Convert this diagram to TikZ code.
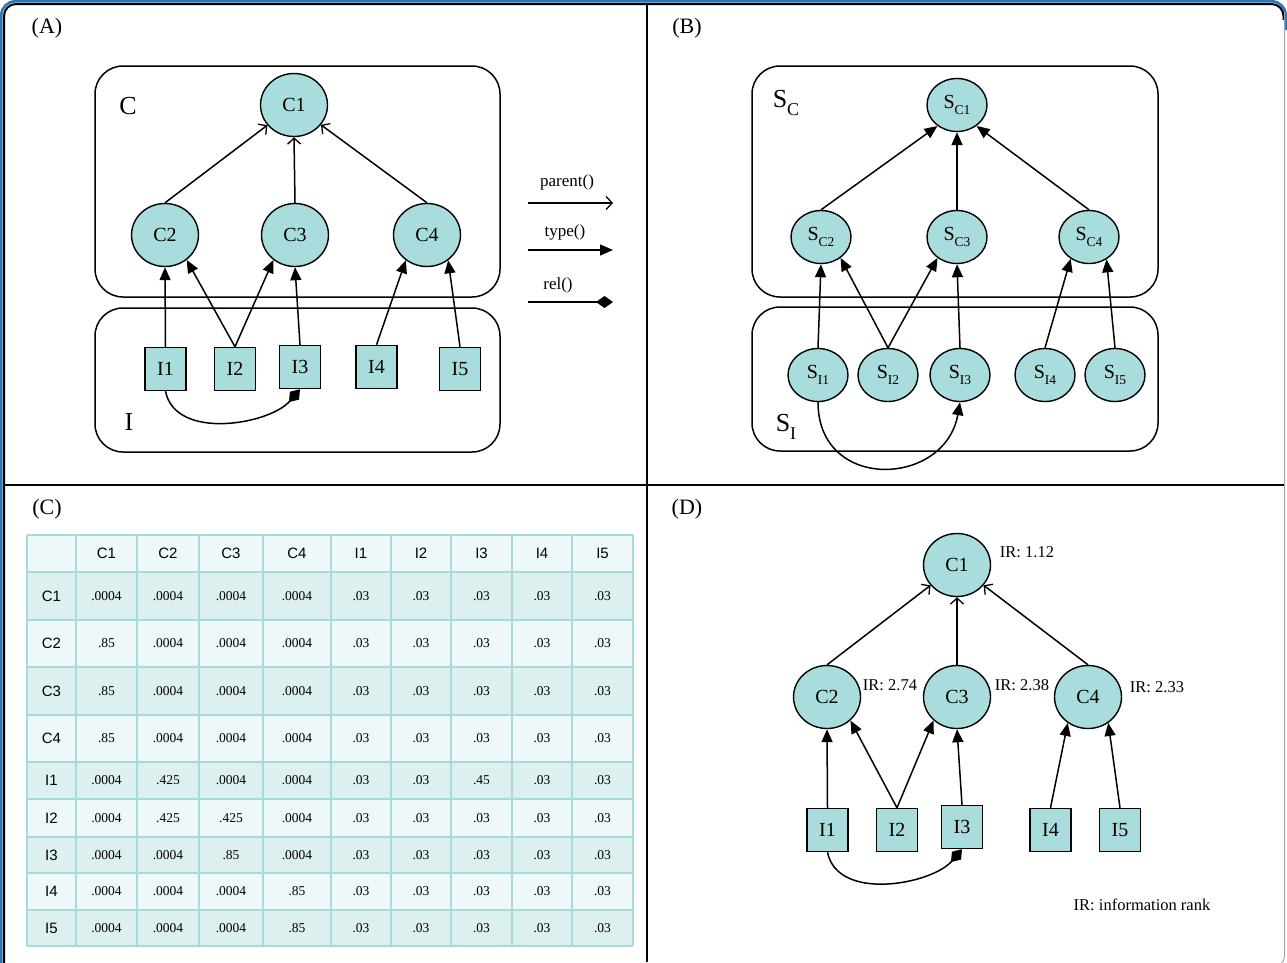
\documentclass[tikz,border=0pt]{standalone}
\usepackage{fontspec}
\setmainfont{Liberation Serif}
\setsansfont{Liberation Sans}
\usetikzlibrary{arrows.meta,shapes.geometric}
\definecolor{nodefill}{RGB}{169,220,220}
\definecolor{celllight}{RGB}{238,248,249}
\definecolor{celldark}{RGB}{221,240,240}
\definecolor{gridc}{RGB}{166,218,219}
\definecolor{frameblue}{RGB}{46,117,182}
\newcommand{\fs}[1]{\fontsize{#1}{#1}\selectfont}
\newcommand{\Ssub}[1]{S\raisebox{-0.3em}{\fs{13.5}#1}}
\begin{document}
\begin{tikzpicture}[x=1pt,y=-1pt,
  cnode/.style={ellipse,draw,line width=1.4pt,fill=nodefill,minimum width=67pt,minimum height=63pt,inner sep=0pt,font=\fs{20}},
  inode/.style={rectangle,draw,line width=1.4pt,fill=nodefill,minimum width=41pt,minimum height=43pt,inner sep=0pt,font=\fs{20}},
  snode/.style={ellipse,draw,line width=1.4pt,fill=nodefill,minimum width=60pt,minimum height=53pt,inner sep=0pt,font=\fs{20}},
  edge/.style={line width=1.5pt},
  parentarr/.style={edge,-{Straight Barb[length=6pt,width=13pt,line width=1.3pt]}},
  typearr/.style={edge,-{Triangle[length=13pt,width=11pt]}},
  relarr/.style={edge,-{Diamond[length=17pt,width=12pt]}},
  box/.style={draw,line width=1.5pt,rounded corners=28pt},
  panellab/.style={font=\fs{22}},
  biglab/.style={font=\fs{26}},
  legtext/.style={font=\fs{17}},
  irtext/.style={font=\fs{16.5}},
  hdr/.style={font=\sffamily\fs{15}},
  val/.style={font=\fs{13.5}},
  gridline/.style={draw=gridc,line width=2.5pt}
]
\useasboundingbox (0,0) rectangle (1287,962);
\fill[white] (0,0) rectangle (1287,962);

% ---------- frame ----------
\draw[frameblue,line width=2.6pt,rounded corners=14pt] (1.3,980) -- (1.3,1.3) -- (1285.7,1.3) -- (1285.7,30);
\draw[black,line width=2pt,rounded corners=12pt] (4,980) -- (4,4) -- (1283.5,4) -- (1283.5,20);
\draw[gray!70,line width=1pt,rounded corners=10pt] (1284.5,12) -- (1284.5,966) -- (1250,966);
\draw[line width=1.8pt] (647,4) -- (647,962);
\draw[line width=1.8pt] (4,485) -- (1283.5,485);

% ---------- panel labels ----------
\node[panellab] (labA) at (47,28) {(A)};
\node[panellab] (labB) at (687,28) {(B)};
\node[panellab] (labC) at (47,509) {(C)};
\node[panellab] (labD) at (687,509) {(D)};

% ---------- panel A ----------
\draw[box] (95,66) rectangle (500,297);
\draw[box] (95,308) rectangle (500,452);
\node[biglab] (aLC) at (128,106) {C};
\node[biglab] (aLI) at (129,422) {I};
\node[cnode] (aC1) at (294,105) {C1};
\node[cnode] (aC2) at (165,235) {C2};
\node[cnode] (aC3) at (295,235) {C3};
\node[cnode] (aC4) at (427,235) {C4};
\node[inode] (aI1) at (165.5,369) {I1};
\node[inode] (aI2) at (235,369) {I2};
\node[inode] (aI3) at (300,367) {I3};
\node[inode] (aI4) at (376.5,367) {I4};
\node[inode] (aI5) at (460,369) {I5};
\draw[parentarr] (aC2.north) -- (aC1);
\draw[parentarr] (aC3.north) -- (aC1.south);
\draw[parentarr] (aC4.north) -- (aC1);
\draw[typearr] (aI1.north) -- (aC2.south);
\draw[typearr] (aI2.north) -- (aC2.-49);
\draw[typearr] (aI2.north) -- (aC3.-131);
\draw[typearr] (aI3.north) -- (aC3.south);
\draw[typearr] (aI4.north) -- (aC4.-130);
\draw[typearr] (aI5.north) -- (aC4.-50);
\draw[relarr] (aI1.south) .. controls +(10,50) and +(-30,35) .. (aI3.south);

% ---------- legend ----------
\coordinate (lp1) at (528,203); \coordinate (lp2) at (613,203);
\coordinate (lt1) at (528,250); \coordinate (lt2) at (613,250);
\coordinate (lr1) at (528,302); \coordinate (lr2) at (613,302);
\draw[parentarr] (lp1) -- (lp2);
\draw[typearr] (lt1) -- (lt2);
\draw[relarr] (lr1) -- (lr2);
\node[legtext] (lpt) at (567,182) {parent()};
\node[legtext] (ltt) at (565,232) {type()};
\node[legtext] (lrt) at (558,285) {rel()};

% ---------- panel B ----------
\draw[box] (752,66) rectangle (1158,297);
\draw[box] (752,307) rectangle (1158,451);
\node[biglab] (bLC) at (786,103) {S\raisebox{-0.3em}{\fs{18}C}};
\node[biglab] (bLI) at (786,427) {S\raisebox{-0.3em}{\fs{18}I}};
\node[snode] (bC1) at (957,105) {\Ssub{C1}};
\node[snode] (bC2) at (821,237) {\Ssub{C2}};
\node[snode] (bC3) at (957,237) {\Ssub{C3}};
\node[snode] (bC4) at (1089,237) {\Ssub{C4}};
\node[snode] (bI1) at (818,375) {\Ssub{I1}};
\node[snode] (bI2) at (888,375) {\Ssub{I2}};
\node[snode] (bI3) at (960,375) {\Ssub{I3}};
\node[snode] (bI4) at (1045,375) {\Ssub{I4}};
\node[snode] (bI5) at (1115,375) {\Ssub{I5}};
\draw[typearr] (bC2.north) -- (bC1.-133);
\draw[typearr] (bC3.north) -- (bC1.south);
\draw[typearr] (bC4.north) -- (bC1.-47);
\draw[typearr] (bI1.north) -- (bC2.south);
\draw[typearr] (bI2.north) -- (bC2.-47);
\draw[typearr] (bI2.north) -- (bC3.-133);
\draw[typearr] (bI3.north) -- (bC3.south);
\draw[typearr] (bI4.north) -- (bC4.-130);
\draw[typearr] (bI5.north) -- (bC4.-52);
\draw[typearr] (bI1.south) .. controls +(0,90) and +(-15,85) .. (bI3.south);

% ---------- panel C : table ----------
\def\rowy{{535,572,620,667,715,762,799,837,873,910,946}}
\def\colc{{51.5,106.5,168,231,297,361,421,481.5,542,602.5}}
\def\rowc{{553.5,596,643.5,691,738.5,780.5,818,855,891.5,928}}
\foreach \r in {0,...,9}{
  \pgfmathsetmacro\ya{\rowy[\r]}
  \pgfmathsetmacro\yb{\rowy[\r+1]}
  \pgfmathtruncatemacro\rp{mod(\r,2)}
  \ifnum\rp=1 \def\cc{celldark}\else\def\cc{celllight}\fi
  \fill[\cc] (27,\ya) rectangle (633,\yb);
}
\foreach \x in {27,76,137,199,263,331,391,451,512,572,633}
  \draw[gridline] (\x,535) -- (\x,946);
\foreach \y in {535,572,620,667,715,762,799,837,873,910,946}
  \draw[gridline] (27,\y) -- (633,\y);
\foreach \h [count=\c] in {C1,C2,C3,C4,I1,I2,I3,I4,I5}{
  \pgfmathsetmacro\xc{\colc[\c]}
  \node[hdr] (hd\c) at (\xc,553.5) {\h};
}
\foreach \lab/\vals [count=\r] in {
  C1/{.0004,.0004,.0004,.0004,.03,.03,.03,.03,.03},
  C2/{.85,.0004,.0004,.0004,.03,.03,.03,.03,.03},
  C3/{.85,.0004,.0004,.0004,.03,.03,.03,.03,.03},
  C4/{.85,.0004,.0004,.0004,.03,.03,.03,.03,.03},
  I1/{.0004,.425,.0004,.0004,.03,.03,.45,.03,.03},
  I2/{.0004,.425,.425,.0004,.03,.03,.03,.03,.03},
  I3/{.0004,.0004,.85,.0004,.03,.03,.03,.03,.03},
  I4/{.0004,.0004,.0004,.85,.03,.03,.03,.03,.03},
  I5/{.0004,.0004,.0004,.85,.03,.03,.03,.03,.03}}{
  \pgfmathsetmacro\yc{\rowc[\r]}
  \node[hdr] (rl\r) at (51.5,\yc) {\lab};
  \foreach \v [count=\c] in \vals {
    \pgfmathsetmacro\xc{\colc[\c]}
    \node[val] (v\r-\c) at (\xc,\yc) {\v};
  }
}

% ---------- panel D ----------
\node[cnode] (dC1) at (957,565) {C1};
\node[cnode] (dC2) at (827,697) {C2};
\node[cnode] (dC3) at (957,697) {C3};
\node[cnode] (dC4) at (1088,697) {C4};
\node[inode] (dI1) at (827.5,830) {I1};
\node[inode] (dI2) at (897,830) {I2};
\node[inode] (dI3) at (962,827) {I3};
\node[inode] (dI4) at (1050.5,830) {I4};
\node[inode] (dI5) at (1120,830) {I5};
\draw[parentarr] (dC2.north) -- (dC1);
\draw[parentarr] (dC3.north) -- (dC1.south);
\draw[parentarr] (dC4.north) -- (dC1);
\draw[typearr] (dI1.north) -- (dC2.south);
\draw[typearr] (dI2.north) -- (dC2.-45);
\draw[typearr] (dI2.north) -- (dC3.-135);
\draw[typearr] (dI3.north) -- (dC3.south);
\draw[typearr] (dI4.north) -- (dC4.-128);
\draw[typearr] (dI5.north) -- (dC4.-52);
\draw[relarr] (dI1.south) .. controls +(10,50) and +(-30,35) .. (dI3.south);
\node[irtext] (ir1) at (1027,552) {IR: 1.12};
\node[irtext] (ir2) at (890,685) {IR: 2.74};
\node[irtext] (ir3) at (1022,685) {IR: 2.38};
\node[irtext] (ir4) at (1157,687) {IR: 2.33};
\node[irtext] (irl) at (1142,905) {IR: information rank};
\end{tikzpicture}
\end{document}
